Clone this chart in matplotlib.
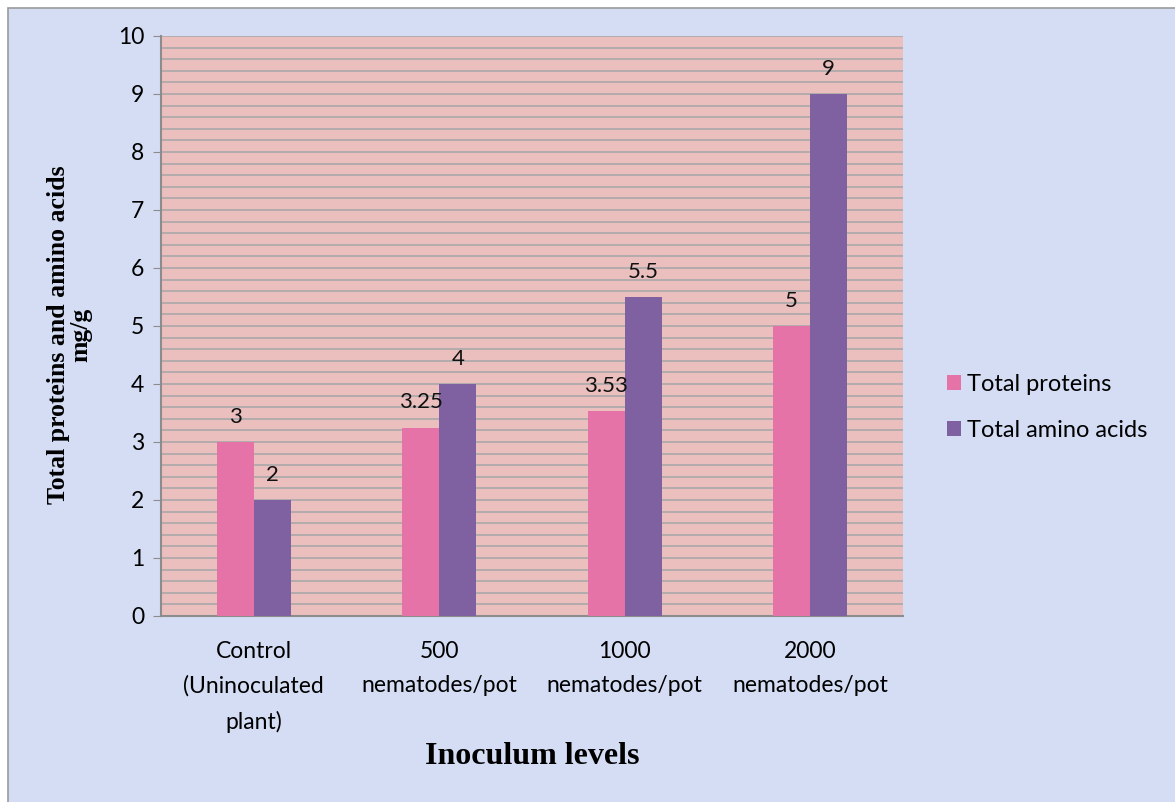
import matplotlib.pyplot as plt
from matplotlib.patches import Rectangle
import numpy as np

categories = ['Control\n(Uninoculated\nplant)', '500\nnematodes/pot',
              '1000\nnematodes/pot', '2000\nnematodes/pot']
total_proteins = [3, 3.25, 3.53, 5]
total_amino_acids = [2, 4, 5.5, 9]
protein_labels = ['3', '3.25', '3.53', '5']
amino_labels = ['2', '4', '5.5', '9']

W, H = 1175, 802
fig = plt.figure(figsize=(W / 100, H / 100), dpi=100)
fig.patch.set_facecolor('white')

# pastel background panel with thin gray frame on the top/left edge
fig.add_artist(Rectangle((8 / W, -0.01), 1.02, 1 - 8 / H + 0.01,
                         transform=fig.transFigure, facecolor='#d4ddf4',
                         edgecolor='#9a9a9a', linewidth=1.2, zorder=0))

ax = fig.add_axes([161 / W, 1 - 616 / H, 742 / W, 580 / H])
ax.set_facecolor('#ecbfbf')

x = np.arange(len(categories))
bw = 0.2
pink = '#e673a7'
purple = '#7f60a1'
b1 = ax.bar(x - bw / 2, total_proteins, bw, color=pink, zorder=3, label='Total proteins')
b2 = ax.bar(x + bw / 2, total_amino_acids, bw, color=purple, zorder=3, label='Total amino acids')

for rects, labels in ((b1, protein_labels), (b2, amino_labels)):
    for r, lab in zip(rects, labels):
        ax.annotate(lab, (r.get_x() + r.get_width() / 2, r.get_height()),
                    xytext=(0, 11), textcoords='offset points', ha='center',
                    va='bottom', fontsize=16, family='Lato', color='#111111')

ax.set_xlim(-0.5, 3.5)
ax.set_ylim(0, 10)
ax.set_yticks(range(0, 11))
ax.set_yticks(np.arange(0, 10.01, 0.2), minor=True)
ax.grid(axis='y', which='both', color='#a9a9a9', linewidth=1.2, zorder=1)
ax.tick_params(axis='y', which='minor', length=0)
ax.tick_params(axis='y', which='major', length=6, color='#8c8c8c',
               labelsize=16.5, pad=6)
ax.set_xticks(x)
ax.set_xticklabels(categories, fontsize=16.5, family='Lato', linespacing=1.76)
ax.tick_params(axis='x', length=0, pad=18)
for lab in ax.get_yticklabels():
    lab.set_family('Lato')

for side in ('top', 'right'):
    ax.spines[side].set_visible(False)
for side in ('left', 'bottom'):
    ax.spines[side].set_color('#8c8c8c')
    ax.spines[side].set_linewidth(1.5)

ax.set_xlabel('Inoculum levels', fontsize=23, fontweight='bold',
              family='Liberation Serif')
ax.xaxis.set_label_coords(0.5, -0.218)
ax.set_ylabel('Total proteins and amino acids\nmg/g', fontsize=18.5,
              fontweight='bold', family='Liberation Serif', linespacing=1.0)
ax.yaxis.set_label_coords(-0.092, 0.485)

leg = ax.legend(loc='center left', bbox_to_anchor=(1.03, 0.36), frameon=False,
                prop={'family': 'Lato', 'size': 17}, handlelength=0.6,
                handleheight=0.6, handletextpad=0.25, labelspacing=1.05)

fig.savefig('out.png', dpi=100)
